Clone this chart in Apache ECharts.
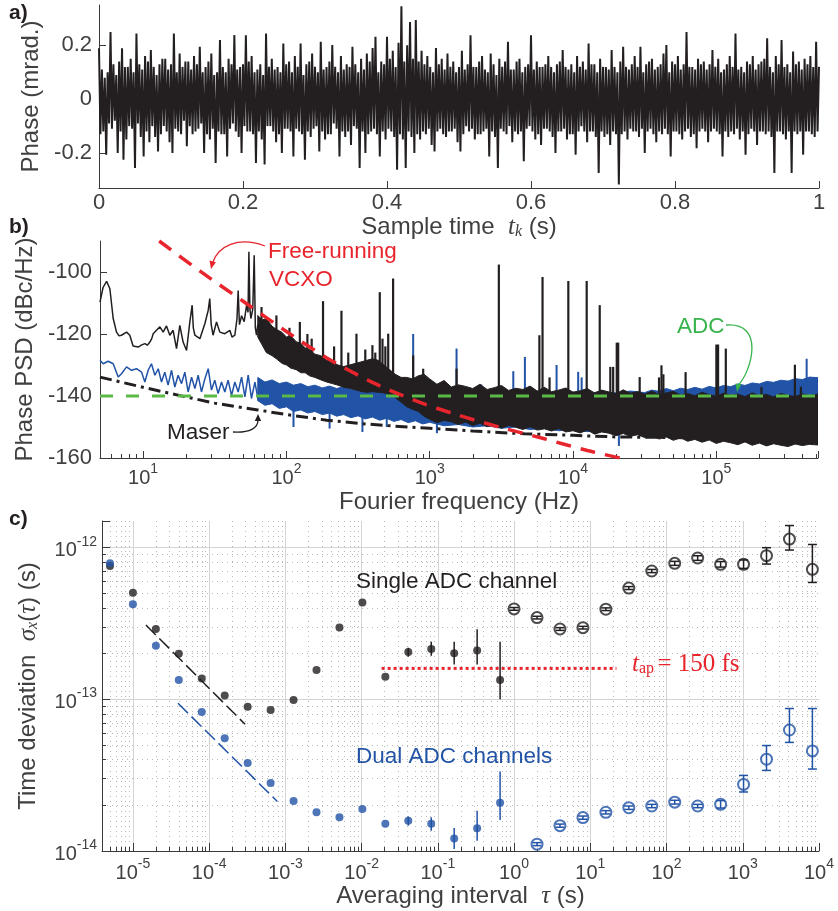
<!DOCTYPE html>
<html>
<head>
<meta charset="utf-8">
<script src="https://cdn.jsdelivr.net/npm/echarts@6/dist/echarts.min.js"></script>
<style>
html, body { margin: 0; padding: 0; background: #fff; }
#main { width: 838px; height: 911px; }
</style>
</head>
<body>
<div id="main"></div>
<script>
// ---------- a) phase record, one value every 2 ms ----------
var phaseStep = 0.002;
var phaseVals = [
  0.189, -0.13, 0.11, -0.12, 0.08, -0.206, 0.10, -0.09, 0.25, -0.11,
  0.13, -0.08, 0.09, -0.20, 0.14, -0.12, 0.189, -0.225, 0.12, -0.15,
  0.12, -0.10, 0.15, -0.11, 0.10, -0.256, 0.244, -0.09, 0.13, -0.14,
  0.11, -0.213, 0.16, -0.12, 0.14, -0.16, 0.183, -0.10, 0.12, -0.14,
  0.09, -0.194, 0.13, -0.13, 0.15, -0.10, 0.15, -0.12, 0.11, -0.16,
  0.13, -0.20, 0.244, -0.11, 0.10, -0.12, 0.17, -0.13, 0.12, -0.08,
  0.14, -0.175, 0.14, -0.10, 0.11, -0.13, 0.16, -0.12, 0.13, -0.11,
  0.195, -0.09, 0.10, -0.20, 0.12, -0.13, 0.14, -0.15, 0.17, -0.11,
  0.09, -0.237, 0.10, -0.12, 0.22, -0.13, 0.12, -0.13, 0.10, -0.213,
  0.15, -0.11, 0.13, -0.09, 0.238, -0.12, 0.11, -0.14, 0.12, -0.20,
  0.13, -0.10, 0.238, -0.12, 0.14, -0.12, 0.16, -0.13, 0.10, -0.237,
  0.11, -0.12, 0.13, -0.15, 0.09, -0.243, 0.244, -0.10, 0.12, -0.10,
  0.15, -0.12, 0.11, -0.16, 0.12, -0.13, 0.10, -0.20, 0.207, -0.11,
  0.13, -0.11, 0.14, -0.12, 0.10, -0.213, 0.16, -0.11, 0.12, -0.12,
  0.207, -0.13, 0.09, -0.225, 0.13, -0.12, 0.14, -0.14, 0.17, -0.11,
  0.12, -0.10, 0.10, -0.194, 0.213, -0.12, 0.11, -0.15, 0.12, -0.13,
  0.14, -0.13, 0.201, -0.09, 0.12, -0.11, 0.10, -0.213, 0.16, -0.12,
  0.11, -0.14, 0.13, -0.12, 0.12, -0.17, 0.195, -0.10, 0.13, -0.11,
  0.10, -0.256, 0.15, -0.12, 0.11, -0.20, 0.17, -0.13, 0.14, -0.12,
  0.19, -0.11, 0.232, -0.13, 0.10, -0.213, 0.14, -0.12, 0.13, -0.15,
  0.232, -0.11, 0.15, -0.12, 0.18, -0.14, 0.12, -0.262, 0.21, -0.13,
  0.345, -0.15, 0.14, -0.256, 0.20, -0.12, 0.287, -0.14, 0.15, -0.20,
  0.294, -0.13, 0.14, -0.15, 0.18, -0.12, 0.13, -0.13, 0.16, -0.11,
  0.12, -0.17, 0.10, -0.194, 0.19, -0.12, 0.13, -0.11, 0.15, -0.13,
  0.11, -0.14, 0.17, -0.12, 0.12, -0.12, 0.14, -0.11, 0.10, -0.16,
  0.12, -0.194, 0.18, -0.13, 0.11, -0.10, 0.13, -0.12, 0.238, -0.11,
  0.12, -0.15, 0.12, -0.13, 0.14, -0.13, 0.16, -0.12, 0.11, -0.11,
  0.10, -0.213, 0.17, -0.12, 0.13, -0.14, 0.09, -0.256, 0.15, -0.11,
  0.12, -0.12, 0.14, -0.13, 0.213, -0.10, 0.11, -0.16, 0.11, -0.12,
  0.14, -0.13, 0.15, -0.12, 0.10, -0.231, 0.12, -0.11, 0.13, -0.10,
  0.238, -0.12, 0.11, -0.15, 0.14, -0.13, 0.12, -0.17, 0.12, -0.11,
  0.13, -0.11, 0.16, -0.12, 0.12, -0.14, 0.10, -0.20, 0.13, -0.12,
  0.14, -0.12, 0.183, -0.11, 0.12, -0.15, 0.11, -0.13, 0.13, -0.13,
  0.10, -0.206, 0.16, -0.12, 0.12, -0.10, 0.14, -0.12, 0.11, -0.16,
  0.207, -0.12, 0.13, -0.12, 0.13, -0.14, 0.10, -0.274, 0.15, -0.12,
  0.12, -0.14, 0.12, -0.13, 0.11, -0.17, 0.183, -0.12, 0.12, -0.13,
  0.10, -0.317, 0.14, -0.13, 0.195, -0.12, 0.12, -0.15, 0.11, -0.11,
  0.13, -0.12, 0.16, -0.12, 0.12, -0.14, 0.195, -0.11, 0.10, -0.20,
  0.13, -0.12, 0.14, -0.11, 0.15, -0.13, 0.11, -0.16, 0.12, -0.12,
  0.13, -0.13, 0.17, -0.11, 0.201, -0.13, 0.10, -0.213, 0.14, -0.12,
  0.13, -0.12, 0.16, -0.13, 0.11, -0.15, 0.13, -0.12, 0.25, -0.11,
  0.12, -0.14, 0.12, -0.13, 0.11, -0.182, 0.15, -0.12, 0.13, -0.11,
  0.14, -0.12, 0.11, -0.16, 0.13, -0.12, 0.183, -0.11, 0.12, -0.12,
  0.15, -0.13, 0.10, -0.213, 0.11, -0.12, 0.13, -0.14, 0.16, -0.12,
  0.12, -0.13, 0.244, -0.11, 0.11, -0.15, 0.12, -0.12, 0.10, -0.206,
  0.14, -0.13, 0.13, -0.11, 0.16, -0.12, 0.11, -0.17, 0.13, -0.12,
  0.14, -0.12, 0.15, -0.13, 0.226, -0.12, 0.12, -0.14, 0.10, -0.274,
  0.16, -0.12, 0.13, -0.12, 0.22, -0.13, 0.12, -0.15, 0.13, -0.12,
  0.10, -0.274, 0.177, -0.12, 0.13, -0.13, 0.14, -0.12, 0.11, -0.206,
  0.15, -0.12, 0.13, -0.12, 0.16, -0.13, 0.12, -0.14, 0.213, -0.12,
  0.12
];

// ---------- b) phase PSD (Hz, dBc/Hz) ----------
// single-channel trace below ~63 Hz
var blackLowF = [5.0, 5.25, 5.56, 5.86, 6.18, 6.52, 6.79, 7.06, 7.66, 8.07,
  8.51, 9.23, 9.77, 10.28, 10.7, 11.14, 11.48, 11.75, 12.39, 13.09,
  13.8, 14.55, 15.35, 16.18, 17.1, 18.03, 19.01, 20.09, 21.18, 21.98,
  22.39, 22.96, 24.89, 26.98, 28.44, 29.17, 29.85, 30.76, 32.51, 34.28,
  37.15, 40.27, 41.69, 43.65, 45.19, 46.03, 46.99, 48.64, 50.7, 52.72,
  53.95, 54.7, 55.6, 56.49, 58.21, 59.57, 60.67, 61.8, 63.1];
var blackLowV = [-109.7, -105, -103, -105.4, -115, -119.4, -120.6, -120.4, -119.4, -120.4,
  -123.9, -124.2, -123.5, -123.1, -123.6, -122.6, -121.5, -119.9, -118.8, -117.7,
  -119.4, -117.4, -120.4, -118.8, -124.7, -117.2, -122.6, -125.3, -116.1, -110.7,
  -118, -120.4, -121.5, -116.6, -112.4, -108.6, -117, -120.4, -116.1, -119.4,
  -119.9, -118.8, -121, -120.4, -115, -106, -117, -114.1, -116, -110.7,
  -113, -93.5, -112, -115, -112, -94.6, -118, -120.4, -117];
// single-channel noise band above 63 Hz (upper / lower edge)
var blackBandF = [63.1, 67.6, 72.4, 79.4, 85.1, 93.3, 100, 107, 117, 126,
  135, 145, 158, 174, 191, 209, 229, 251, 275, 302,
  331, 363, 398, 437, 479, 525, 575, 631, 692, 759,
  832, 912, 1000, 1122, 1259, 1413, 1585, 1778, 1995, 2239,
  2512, 2818, 3162, 3548, 3981, 4467, 5012, 5623, 6310, 7079,
  7943, 8913, 10000, 11220, 12589, 14125, 15849, 17783, 19953, 22387,
  25119, 28184, 31623, 35481, 39811, 44668, 50119, 56234, 63096, 70795,
  79433, 89125, 100000, 112202, 125893, 141254, 158489, 177828, 199526, 223872,
  251189, 281838, 316228, 354813, 398107, 446684, 512000];
var blackBandHi = [-114, -115.5, -115, -117.5, -118.5, -119.5, -121, -120.5, -122.5, -123,
  -124.5, -125, -126.5, -127, -128.5, -129, -130, -130.5, -130, -129.5,
  -129, -128.5, -128, -128.5, -130, -131.5, -133, -134, -134, -134.5,
  -133.5, -133, -134.5, -136.2, -135.0, -137.1, -136.4, -136.9, -137.6, -136.2,
  -137.9, -137.3, -136.6, -138.2, -137.5, -137.9, -136.8, -138.4, -137.2, -138.6,
  -138.1, -137.4, -138.8, -138.3, -137.6, -139.0, -138.1, -138.7, -139.3, -138.0,
  -139.1, -138.6, -139.4, -138.4, -139.6, -139.0, -138.5, -139.7, -139.2, -139.9,
  -138.8, -139.6, -140.1, -139.1, -139.8, -139.4, -140.2, -139.0, -139.9, -139.5,
  -140.3, -139.2, -139.8, -140.2, -139.3, -139.9, -139.4];
var blackBandLo = [-121, -123.5, -126, -127, -128, -129.5, -130, -131, -131.5, -132.5,
  -132.5, -133.5, -134, -134.8, -135.5, -136, -136.5, -137.2, -137.5, -138,
  -138.5, -138.8, -138.6, -138.8, -139, -139.5, -140.5, -142, -143.5, -144.3,
  -145, -146.5, -147.5, -148.6, -147.9, -148.3, -149.2, -148.4, -149.6, -148.8,
  -149.9, -149.3, -150.4, -149.5, -150.1, -150.8, -149.9, -151.0, -150.6, -151.3,
  -150.5, -151.6, -151.2, -151.9, -151.0, -152.3, -151.6, -152.0, -152.8, -152.1,
  -153.0, -152.5, -153.4, -152.8, -153.9, -153.2, -154.3, -153.5, -154.6, -154.0,
  -154.9, -154.2, -155.3, -154.6, -155.1, -155.7, -154.8, -155.9, -155.2, -156.1,
  -155.4, -155.9, -156.3, -155.5, -156.0, -155.6, -155.8];
// single-channel spurs: frequency, foot, top
var blackSpurF = [67.0, 85.1, 105, 124, 140, 150, 180, 215, 242, 270,
  308, 355, 398, 417, 448, 468, 490, 513, 555, 766,
  900, 1538, 3035, 5821, 6124, 6855, 9268, 12450, 15350, 18200,
  19050, 20180, 20650, 29170, 39800, 41400, 42700, 61000, 100000, 102800,
  116400, 206500, 353200, 389000];
var blackSpurFoot = [-120, -124, -126, -128, -128, -129, -131, -132, -133, -133,
  -134, -132, -132, -132, -132, -132, -132, -134, -135, -139,
  -140, -142, -143, -143, -143, -143, -144, -144, -144, -145,
  -145, -145, -145, -146, -146, -146, -146, -147, -147, -147,
  -147, -147, -147, -147];
var blackSpurTop = [-111.3, -114, -118, -116.1, -120, -121.5, -109.4, -124, -112.5, -126,
  -119.9, -125, -123.6, -126, -106.5, -121.5, -124, -119.9, -102.1, -126.9,
  -131.2, -131.2, -97.6, -120.4, -101.6, -134, -102.9, -102.9, -110.7, -130.6,
  -130.6, -122.8, -122.8, -133.9, -134, -130.1, -133, -132.3, -123.4, -123.4,
  -124.7, -137.1, -129.9, -137];

// dual-channel trace below ~63 Hz
var blueLowF = [5.0, 5.26, 5.70, 6.18, 6.70, 7.06, 7.66, 8.30, 8.99, 9.75,
  10.28, 10.84, 11.43, 12.08, 12.74, 13.43, 14.16, 14.93, 15.78, 16.63,
  17.54, 18.54, 19.54, 20.61, 21.78, 22.96, 24.21, 25.53, 26.98, 28.44,
  29.99, 31.62, 33.34, 35.24, 37.15, 39.17, 41.40, 43.65, 46.03, 48.64,
  51.29, 54.08, 57.02, 60.26, 63.53];
var blueLowV = [-128.5, -129.6, -128.8, -129.6, -133.9, -132.8, -130.6, -131.7, -131.2, -132.3,
  -135.5, -131.7, -129.6, -133.3, -131.2, -135.5, -132.3, -136.5, -131.7, -137.1,
  -133.3, -136, -132.3, -138.7, -133.9, -137.6, -133.3, -138.7, -134.4, -131.2,
  -138.1, -134.9, -139.2, -135.5, -138.7, -134.9, -139.8, -135.5, -138.7, -133.9,
  -140.3, -133.3, -140.8, -135.5, -141.4];
var blueBandF = [63.1, 70.8, 79.4, 89.1, 100, 112, 126, 141, 158, 178,
  200, 224, 251, 282, 316, 355, 398, 447, 501, 562,
  631, 708, 794, 891, 1000, 1259, 1585, 1995, 2512, 3162,
  3981, 5012, 6310, 7943, 10000, 12589, 15849, 19953, 25119, 31623,
  35481, 39811, 44668, 50119, 56234, 63096, 70795, 79433, 89125, 100000,
  112202, 125893, 141254, 158489, 177828, 199526, 223872, 251189, 281838, 316228,
  354813, 398107, 446684, 512000];
var blueBandHi = [-134, -135.5, -134.8, -136, -135.5, -136.5, -136, -137, -136.5, -137.4,
  -136.8, -137.6, -137, -137.8, -137.2, -138, -137.4, -138.2, -137.6, -138.3,
  -137.8, -138.4, -137.9, -138.5, -138, -138.6, -138.2, -138.8, -138.4, -139,
  -138.6, -139, -138.6, -139.1, -138.7, -139.1, -138.6, -139, -138.4, -138.9,
  -138.1, -138.5, -137.6, -138.3, -137.5, -137.9, -137.2, -137.8, -136.9, -137.4,
  -136.6, -137.0, -136.1, -136.6, -135.8, -136.1, -135.3, -135.6, -134.9, -135.2,
  -134.4, -134.7, -133.9, -134.1];
var blueBandLo = [-141.5, -143, -142.5, -144, -143.5, -145, -144.5, -145.5, -145, -146,
  -145.5, -146.5, -146, -147, -146.4, -147.4, -146.8, -147.8, -147.2, -148.2,
  -147.6, -148.6, -148, -149, -148.5, -149.6, -149.2, -150, -149.6, -150.4,
  -150, -150.8, -150.4, -151.2, -150.8, -151.5, -151.1, -151.8, -151.4, -152.2,
  -151.8, -152.4, -152, -152.6, -152.2, -152.8, -152.3, -152.8, -152.3, -152.8,
  -152.3, -152.8, -152.3, -152.8, -152.3, -152.8, -152.3, -152.8, -152.3, -152.8,
  -152.3, -152.8, -152.3, -152.8];
var blueSpurF = [766, 1538, 2291, 3828, 4613, 7674, 10860, 11480, 426600,
  112, 200, 339, 501, 1122, 20890];
var blueSpurFoot = [-142, -143, -143, -144, -144, -144, -144, -144, -145,
  -143, -144, -145, -146, -148, -150];
var blueSpurTop = [-120, -124.7, -136.3, -132, -127.4, -130, -132.2, -134, -128,
  -150, -150.5, -151.6, -150, -152, -156.1];

// reference levels
var maserF = [5, 10, 17.8, 31.6, 63.1, 100, 191, 316, 555, 1000, 1995, 4571, 10000, 19953, 50119, 158489, 512000];
var maserV = [-133.9, -137.2, -139.8, -142.3, -144.5, -146, -147.8, -148.8, -149.7, -150.4, -151.3, -152.2, -152.7, -153.2, -153.4, -153.7, -154];
var vcxoF = [12.94, 25.1, 50.1, 100, 199.5, 398, 794, 1585, 3162, 6310, 12589, 21380];
var vcxoV = [-90, -99.8, -109.5, -119.2, -128.2, -135.6, -141.5, -146.2, -150.2, -153.8, -157.6, -160];
var adcF = [5, 512000];
var adcV = [-140, -140];

// ---------- c) time deviation ----------
var tauFilled = [5e-6, 1e-5, 2e-5, 4e-5, 8e-5, 1.6e-4, 3.2e-4, 6.4e-4, 1.28e-3, 2.56e-3,
  5.12e-3, 1.024e-2, 2.048e-2, 4.096e-2, 8.192e-2, 0.1638, 0.3277, 0.6554];
var singleFilled = [7.57e-13, 5.04e-13, 2.91e-13, 2.0e-13, 1.37e-13, 1.06e-13, 8.95e-14, 8.5e-14, 9.9e-14, 1.56e-13,
  2.98e-13, 4.35e-13, 1.41e-13, 2.05e-13, 2.15e-13, 2.01e-13, 2.1e-13, 1.34e-13];
var dualFilled = [7.9e-13, 4.24e-13, 2.26e-13, 1.34e-13, 8.26e-14, 5.53e-14, 3.81e-14, 2.81e-14, 2.14e-14, 1.8e-14,
  1.67e-14, 1.89e-14, 1.51e-14, 1.58e-14, 1.51e-14, 1.21e-14, 1.41e-14, 2.08e-14];
// error bars of the last filled points
var tauFilledErr = [4.096e-2, 8.192e-2, 0.1638, 0.3277, 0.6554];
var singleFilledLo = [1.91e-13, 1.94e-13, 1.7e-13, 1.7e-13, 1.0e-13];
var singleFilledHi = [2.19e-13, 2.4e-13, 2.4e-13, 2.9e-13, 2.4e-13];
var dualFilledLo = [1.47e-14, 1.36e-14, 1.03e-14, 1.17e-14, 1.6e-14];
var dualFilledHi = [1.69e-14, 1.67e-14, 1.42e-14, 1.84e-14, 3.35e-14];

var tauOpen = [1, 2, 4, 8, 16, 32, 64, 128, 256, 512, 1024, 2048, 4096, 8192];
var singleOpen = [3.95e-13, 3.46e-13, 2.91e-13, 2.97e-13, 3.93e-13, 5.42e-13, 7.02e-13, 7.89e-13, 8.55e-13, 7.77e-13, 7.77e-13, 8.86e-13, 1.14e-12, 7.2e-13];
var singleOpenLo = [3.87e-13, 3.39e-13, 2.85e-13, 2.91e-13, 3.85e-13, 5.3e-13, 6.85e-13, 7.65e-13, 8.25e-13, 7.45e-13, 7.3e-13, 7.8e-13, 9.65e-13, 5.9e-13];
var singleOpenHi = [4.03e-13, 3.53e-13, 2.97e-13, 3.03e-13, 4.01e-13, 5.54e-13, 7.19e-13, 8.13e-13, 8.85e-13, 8.1e-13, 8.3e-13, 1.0e-12, 1.4e-12, 1.05e-12];
var dualOpen = [null, 1.11e-14, 1.47e-14, 1.66e-14, 1.8e-14, 1.93e-14, 1.98e-14, 2.1e-14, 1.98e-14, 2.03e-14, 2.75e-14, 4.03e-14, 6.28e-14, 4.57e-14];
var dualOpenLo = [null, 1.085e-14, 1.435e-14, 1.62e-14, 1.755e-14, 1.88e-14, 1.93e-14, 2.04e-14, 1.93e-14, 1.92e-14, 2.45e-14, 3.4e-14, 5.2e-14, 3.47e-14];
var dualOpenHi = [null, 1.135e-14, 1.505e-14, 1.7e-14, 1.845e-14, 1.98e-14, 2.03e-14, 2.16e-14, 2.03e-14, 2.15e-14, 3.15e-14, 4.96e-14, 8.7e-14, 8.7e-14];

// tau^-1/2 guides and the aperture-jitter level
var singleFitTau = [1.48e-5, 2.96e-4];
var singleFitSig = [3.09e-13, 6.85e-14];
var dualFitTau = [3.9e-5, 7.85e-4];
var dualFitSig = [9.42e-14, 2.12e-14];
var tapTau = [1.83e-2, 22];
var tapSig = [1.6e-13, 1.6e-13];

// ---------- chart ----------
var myChart = echarts.init(document.getElementById('main'));

var axisCol = '#3a3a3a';
var labCol = '#404040';
var inkBlack = '#231f20';
var inkBlue = '#2153a6';
var inkRed = '#e8242c';
var inkGreen = '#5bb947';

function pairs(xs, ys) {
  var out = [];
  for (var i = 0; i < xs.length; i++) {
    if (ys[i] != null) out.push([xs[i], ys[i]]);
  }
  return out;
}
function triples(xs, a, b) {
  var out = [];
  for (var i = 0; i < xs.length; i++) {
    if (a[i] != null) out.push([xs[i], a[i], b[i]]);
  }
  return out;
}

// exponent labels for the log axes
function powLabel(v) {
  var e = Math.log10(v);
  var r = Math.round(e);
  if (Math.abs(e - r) > 1e-6) return '';
  return '{b|10}{s|' + r + '}';
}
var powRich = {
  b: { fontSize: 20, color: labCol, lineHeight: 26, verticalAlign: 'bottom' },
  s: { fontSize: 14, color: labCol, lineHeight: 14, verticalAlign: 'top' }
};
var nameRich = {
  n: { fontSize: 24, color: labCol },
  i: { fontSize: 25, color: labCol, fontFamily: 'Liberation Serif', fontStyle: 'italic' },
  k: { fontSize: 16, color: labCol, fontFamily: 'Liberation Serif', fontStyle: 'italic', lineHeight: 12, verticalAlign: 'bottom' }
};

// filled polygon between two edges (noise band)
function bandItem(F, HI, LO, color) {
  return function (params, api) {
    if (params.dataIndex !== 0) return null;
    var pts = [];
    for (var i = 0; i < F.length; i++) pts.push(api.coord([F[i], HI[i]]));
    for (var j = F.length - 1; j >= 0; j--) pts.push(api.coord([F[j], LO[j]]));
    return { type: 'polygon', shape: { points: pts }, style: { fill: color, stroke: color, lineWidth: 1 } };
  };
}
// vertical segment from value 1 to value 2 (spurs, error bars)
function stickItem(width, cap) {
  return function (params, api) {
    var x = api.value(0);
    var a = api.coord([x, api.value(1)]);
    var b = api.coord([x, api.value(2)]);
    var st = { stroke: api.visual('color'), lineWidth: width };
    var kids = [{ type: 'line', shape: { x1: a[0], y1: a[1], x2: b[0], y2: b[1] }, style: st }];
    if (cap) {
      kids.push({ type: 'line', shape: { x1: a[0] - cap, y1: a[1], x2: a[0] + cap, y2: a[1] }, style: st });
      kids.push({ type: 'line', shape: { x1: b[0] - cap, y1: b[1], x2: b[0] + cap, y2: b[1] }, style: st });
    }
    return { type: 'group', children: kids };
  };
}

function baseAxis(extra) {
  var ax = {
    axisLine: { show: true, onZero: false, lineStyle: { color: axisCol, width: 1 } },
    axisTick: { show: true, inside: true, length: 7, lineStyle: { color: axisCol } },
    axisLabel: { color: labCol, fontSize: 22 },
    splitLine: { show: false },
    nameLocation: 'middle',
    nameTextStyle: { color: labCol, fontSize: 24, rich: nameRich }
  };
  for (var k in extra) ax[k] = extra[k];
  return ax;
}

var minorGrid = { show: true, lineStyle: { color: '#b8b8b8', width: 1, type: [1, 4] } };
var majorGrid = { show: true, showMinLine: false, showMaxLine: false, lineStyle: { color: '#d4d4d4', width: 1 } };

var option = {
  animation: false,
  textStyle: { fontFamily: 'Liberation Sans' },
  grid: [
    { left: 99, top: 5, width: 720, height: 183 },
    { left: 100, top: 241, width: 718, height: 217 },
    { left: 102, top: 521, width: 717, height: 330 }
  ],
  xAxis: [
    baseAxis({
      type: 'value', gridIndex: 0, min: 0, max: 1,
      axisTick: { show: true, inside: true, length: 7, lineStyle: { color: axisCol }, customValues: [0, 0.2, 0.4, 0.6, 0.8, 1] },
      axisLabel: { color: labCol, fontSize: 22, margin: 4, customValues: [0, 0.2, 0.4, 0.6, 0.8, 1] },
      name: 'Sample time  {i|t}{k|k} (s)', nameGap: 22
    }),
    baseAxis({
      type: 'log', logBase: 10, gridIndex: 1, min: 5, max: 512000,
      minorTick: { show: true, splitNumber: 9, length: 4, lineStyle: { color: axisCol } },
      axisLabel: { formatter: powLabel, rich: powRich, margin: 4 },
      name: 'Fourier frequency (Hz)', nameGap: 32
    }),
    baseAxis({
      type: 'log', logBase: 10, gridIndex: 2, min: 3.93e-6, max: 1e4,
      axisTick: { show: true, inside: true, length: 8, lineStyle: { color: axisCol } },
      minorTick: { show: true, splitNumber: 9, length: 4, lineStyle: { color: axisCol } },
      splitLine: majorGrid,
      minorSplitLine: minorGrid,
      axisLabel: { formatter: powLabel, rich: powRich, margin: 6 },
      name: 'Averaging interval  {i|τ} (s)', nameGap: 30
    })
  ],
  yAxis: [
    baseAxis({
      type: 'value', gridIndex: 0, min: -0.33, max: 0.35,
      axisTick: { show: true, inside: true, length: 7, lineStyle: { color: axisCol }, customValues: [-0.2, 0, 0.2] },
      axisLabel: { color: labCol, fontSize: 22, margin: 7, customValues: [-0.2, 0, 0.2] },
      name: 'Phase (mrad.)', nameGap: 46
    }),
    baseAxis({
      type: 'value', gridIndex: 1, min: -160, max: -90,
      axisTick: { show: true, inside: true, length: 7, lineStyle: { color: axisCol }, customValues: [-160, -140, -120, -100] },
      axisLabel: { color: labCol, fontSize: 22, margin: 8, customValues: [-160, -140, -120, -100] },
      name: 'Phase PSD (dBc/Hz)', nameGap: 53
    }),
    baseAxis({
      type: 'log', logBase: 10, gridIndex: 2, min: 1e-14, max: 1.5e-12,
      axisTick: { show: true, inside: true, length: 8, lineStyle: { color: axisCol } },
      minorTick: { show: true, splitNumber: 9, length: 4, lineStyle: { color: axisCol } },
      splitLine: majorGrid,
      minorSplitLine: minorGrid,
      axisLabel: { formatter: powLabel, rich: powRich, margin: 5 },
      name: 'Time deviation  {i|σ}{k|x}({i|τ}) (s)', nameGap: 61
    })
  ],
  series: [
    // a)
    {
      type: 'line', xAxisIndex: 0, yAxisIndex: 0, symbol: 'none',
      data: phaseVals.map(function (v, i) { return [i * phaseStep, v]; }),
      lineStyle: { color: inkBlack, width: 2 }
    },
    // b) dual channel
    {
      type: 'line', xAxisIndex: 1, yAxisIndex: 1, symbol: 'none', z: 2,
      data: pairs(blueLowF, blueLowV), lineStyle: { color: inkBlue, width: 1.5 }
    },
    {
      type: 'custom', xAxisIndex: 1, yAxisIndex: 1, z: 2, clip: true,
      data: triples(blueBandF, blueBandLo, blueBandHi), encode: { x: 0, y: [1, 2] },
      renderItem: bandItem(blueBandF, blueBandHi, blueBandLo, inkBlue)
    },
    {
      type: 'custom', xAxisIndex: 1, yAxisIndex: 1, z: 2, clip: true,
      itemStyle: { color: inkBlue },
      data: triples(blueSpurF, blueSpurFoot, blueSpurTop), encode: { x: 0, y: [1, 2] },
      renderItem: stickItem(2)
    },
    // b) single channel
    {
      type: 'line', xAxisIndex: 1, yAxisIndex: 1, symbol: 'none', z: 3,
      data: pairs(blackLowF, blackLowV), lineStyle: { color: inkBlack, width: 1.5 }
    },
    {
      type: 'custom', xAxisIndex: 1, yAxisIndex: 1, z: 3, clip: true,
      data: triples(blackBandF, blackBandLo, blackBandHi), encode: { x: 0, y: [1, 2] },
      renderItem: bandItem(blackBandF, blackBandHi, blackBandLo, inkBlack)
    },
    {
      type: 'custom', xAxisIndex: 1, yAxisIndex: 1, z: 3, clip: true,
      itemStyle: { color: inkBlack },
      data: triples(blackSpurF, blackSpurFoot, blackSpurTop), encode: { x: 0, y: [1, 2] },
      renderItem: stickItem(2.2)
    },
    // b) reference curves
    {
      type: 'line', xAxisIndex: 1, yAxisIndex: 1, symbol: 'none', z: 4,
      data: pairs(maserF, maserV), lineStyle: { color: inkBlack, width: 3, type: [12, 5, 3, 5] }
    },
    {
      type: 'line', xAxisIndex: 1, yAxisIndex: 1, symbol: 'none', z: 5,
      data: pairs(adcF, adcV), lineStyle: { color: inkGreen, width: 3, type: [13, 13] }
    },
    {
      type: 'line', xAxisIndex: 1, yAxisIndex: 1, symbol: 'none', z: 5, smooth: 0.3,
      data: pairs(vcxoF, vcxoV), lineStyle: { color: inkRed, width: 3.5, type: [15, 10] }
    },
    // c) guides
    {
      type: 'line', xAxisIndex: 2, yAxisIndex: 2, symbol: 'none', z: 3,
      data: pairs(singleFitTau, singleFitSig), lineStyle: { color: inkBlack, width: 1.5, type: [14, 5] }
    },
    {
      type: 'line', xAxisIndex: 2, yAxisIndex: 2, symbol: 'none', z: 3,
      data: pairs(dualFitTau, dualFitSig), lineStyle: { color: inkBlue, width: 1.5, type: [14, 5] }
    },
    {
      type: 'line', xAxisIndex: 2, yAxisIndex: 2, symbol: 'none', z: 3,
      data: pairs(tapTau, tapSig), lineStyle: { color: inkRed, width: 3, type: [3, 3] }
    },
    // c) points
    {
      type: 'scatter', xAxisIndex: 2, yAxisIndex: 2, symbol: 'circle', symbolSize: 8, z: 4,
      itemStyle: { color: inkBlack }, data: pairs(tauFilled, singleFilled)
    },
    {
      type: 'scatter', xAxisIndex: 2, yAxisIndex: 2, symbol: 'circle', symbolSize: 8, z: 4,
      itemStyle: { color: inkBlue }, data: pairs(tauFilled, dualFilled)
    },
    {
      type: 'scatter', xAxisIndex: 2, yAxisIndex: 2, symbol: 'emptyCircle', symbolSize: 11, z: 4,
      itemStyle: { color: inkBlack, borderWidth: 1.5 }, data: pairs(tauOpen, singleOpen)
    },
    {
      type: 'scatter', xAxisIndex: 2, yAxisIndex: 2, symbol: 'emptyCircle', symbolSize: 11, z: 4,
      itemStyle: { color: inkBlue, borderWidth: 1.5 }, data: pairs(tauOpen, dualOpen)
    },
    {
      type: 'custom', xAxisIndex: 2, yAxisIndex: 2, z: 5, itemStyle: { color: inkBlack },
      data: triples(tauFilledErr, singleFilledLo, singleFilledHi), encode: { x: 0, y: [1, 2] },
      renderItem: stickItem(1.5)
    },
    {
      type: 'custom', xAxisIndex: 2, yAxisIndex: 2, z: 5, itemStyle: { color: inkBlue },
      data: triples(tauFilledErr, dualFilledLo, dualFilledHi), encode: { x: 0, y: [1, 2] },
      renderItem: stickItem(1.5)
    },
    {
      type: 'custom', xAxisIndex: 2, yAxisIndex: 2, z: 5, itemStyle: { color: inkBlack },
      data: triples(tauOpen, singleOpenLo, singleOpenHi), encode: { x: 0, y: [1, 2] },
      renderItem: stickItem(1.5, 4.5)
    },
    {
      type: 'custom', xAxisIndex: 2, yAxisIndex: 2, z: 5, itemStyle: { color: inkBlue },
      data: triples(tauOpen, dualOpenLo, dualOpenHi), encode: { x: 0, y: [1, 2] },
      renderItem: stickItem(1.5, 4.5)
    }
  ],
  graphic: [
    { type: 'text', left: 9, top: 3, style: { text: 'a)', fontSize: 21, fontWeight: 'bold', fill: inkBlack } },
    { type: 'text', left: 9, top: 217, style: { text: 'b)', fontSize: 21, fontWeight: 'bold', fill: inkBlack } },
    { type: 'text', left: 9, top: 509, style: { text: 'c)', fontSize: 21, fontWeight: 'bold', fill: inkBlack } },

    { type: 'text', left: 268, top: 240, z: 10, style: { text: 'Free-running', fontSize: 22.5, fill: inkRed } },
    { type: 'text', left: 269, top: 268, z: 10, style: { text: 'VCXO', fontSize: 22.5, fill: inkRed } },
    { type: 'bezierCurve', z: 10, shape: { x1: 265, y1: 246, cpx1: 238, cpy1: 236, cpx2: 218, cpy2: 246, x2: 212.5, y2: 263 }, style: { stroke: inkRed, lineWidth: 1.3, fill: null } },
    { type: 'polygon', z: 10, shape: { points: [[211, 269], [215.9, 262.3], [209.5, 260.5]] }, style: { fill: inkRed } },

    { type: 'text', left: 167, top: 421, z: 10, style: { text: 'Maser', fontSize: 22.5, fill: inkBlack } },
    { type: 'bezierCurve', z: 10, shape: { x1: 233, y1: 432, cpx1: 250, cpy1: 433, cpx2: 258, cpy2: 428, x2: 258, y2: 420 }, style: { stroke: inkBlack, lineWidth: 1.3, fill: null } },
    { type: 'polygon', z: 10, shape: { points: [[258, 414], [254.8, 421], [261.2, 421]] }, style: { fill: inkBlack } },

    { type: 'text', left: 677, top: 315, z: 10, style: { text: 'ADC', fontSize: 22.5, fill: '#36b34a' } },
    { type: 'bezierCurve', z: 10, shape: { x1: 726, y1: 325, cpx1: 765, cpy1: 322, cpx2: 752, cpy2: 370, x2: 738.5, y2: 385 }, style: { stroke: '#36b34a', lineWidth: 1.3, fill: null } },
    { type: 'polygon', z: 10, shape: { points: [[737, 392], [741.5, 384.5], [735.5, 383.5]] }, style: { fill: '#36b34a' } },

    { type: 'text', left: 356, top: 570, z: 10, style: { text: 'Single ADC channel', fontSize: 22.5, fill: inkBlack } },
    { type: 'text', left: 356, top: 745, z: 10, style: { text: 'Dual ADC channels', fontSize: 22.5, fill: inkBlue } },
    { type: 'text', left: 632, top: 652, z: 10, style: {
        text: '{i|t}{s|ap} {n|= 150 fs}',
        rich: {
          i: { fontSize: 25, fontFamily: 'Liberation Serif', fontStyle: 'italic', fill: inkRed },
          s: { fontSize: 16, fontFamily: 'Liberation Serif', fill: inkRed, lineHeight: 12, verticalAlign: 'bottom' },
          n: { fontSize: 25, fontFamily: 'Liberation Serif', fill: inkRed }
        }
      } }
  ]
};

myChart.setOption(option);
</script>
</body>
</html>
